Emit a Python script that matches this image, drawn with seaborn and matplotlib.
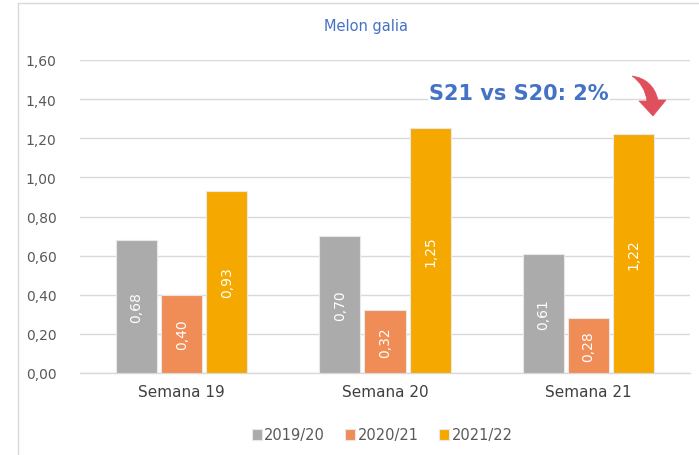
import matplotlib
matplotlib.use("Agg")
import matplotlib.pyplot as plt
import seaborn as sns
import pandas as pd
from matplotlib.patches import PathPatch
from matplotlib.path import Path
from matplotlib.lines import Line2D

categories = ["Semana 19", "Semana 20", "Semana 21"]
seasons = ["2019/20", "2020/21", "2021/22"]
v_2019 = [0.68, 0.70, 0.61]
v_2020 = [0.40, 0.32, 0.28]
v_2021 = [0.93, 1.25, 1.22]
yticks = [0.0, 0.2, 0.4, 0.6, 0.8, 1.0, 1.2, 1.4, 1.6]
colors = ["#ABABAB", "#F08C55", "#F5A800"]

rows = []
for s, vals in zip(seasons, [v_2019, v_2020, v_2021]):
    for c, v in zip(categories, vals):
        rows.append({"Semana": c, "Temporada": s, "Valor": v})
df = pd.DataFrame(rows)

sns.set_theme(style="white")
plt.rcParams["font.family"] = ["DejaVu Sans"]

W, H = 699, 456
fig = plt.figure(figsize=(W / 100, H / 100), dpi=100)
ax = fig.add_axes([80/W, (H-374)/H, (690-80)/W, (374-61)/H])

sns.barplot(data=df, x="Semana", y="Valor", hue="Temporada", order=categories,
            hue_order=seasons, palette=colors, width=0.665, ax=ax,
            edgecolor="#E8E8E8", linewidth=0.8, saturation=1, legend=True, zorder=3)

# Shrink bars slightly to create gaps between them
for p in ax.patches:
    w = p.get_width()
    if w > 0:
        x = p.get_x()
        p.set_x(x + w * 0.045)
        p.set_width(w * 0.91)

ax.set_ylim(0, 1.6)
ax.set_yticks(yticks)
ax.set_yticklabels([f"{t:.2f}".replace(".", ",") for t in yticks], color="#595959", fontsize=10)
ax.tick_params(axis="y", length=0, pad=17)
ax.tick_params(axis="x", length=0, pad=8, labelsize=11, labelcolor="#404040")
ax.set_xlabel("")
ax.set_ylabel("")
ax.yaxis.grid(True, color="#D9D9D9", linewidth=1.0, zorder=0)
ax.set_axisbelow(True)
for sp in ["top", "right", "left"]:
    ax.spines[sp].set_visible(False)
ax.spines["bottom"].set_color("#D9D9D9")
ax.spines["bottom"].set_linewidth(1.0)

# Value labels
for cont in ax.containers:
    labels = [f"{v:.2f}".replace(".", ",") for v in cont.datavalues]
    ax.bar_label(cont, labels=labels, label_type="center", rotation=90,
                 color="white", fontsize=10)

# Legend
handles, labels_ = ax.get_legend_handles_labels()
ax.get_legend().remove()
ax.legend(handles, labels_, loc="center", bbox_to_anchor=(382/W, 1 - 436/H),
          bbox_transform=fig.transFigure, ncol=3, frameon=False,
          fontsize=10.5, handlelength=0.7, handleheight=0.7, handletextpad=0.15,
          columnspacing=1.4, labelcolor="#595959")

# Title
fig.text(366/W, 1 - 27/H, "Melon galia", ha="center", va="center",
         color="#4472C4", fontsize=10.5)

# Annotation
fig.text(519/W, 1 - 94/H, "S21 vs S20: 2%", ha="center", va="center",
         color="#4472C4", fontsize=15, fontweight="bold",
         bbox=dict(facecolor="white", edgecolor="none", pad=1))

# Curved callout arrow (decoration), defined in figure pixels
def fp(x, y):
    return (x / W, 1 - y / H)

arrow_pts = [fp(632, 77), fp(653, 80), fp(658, 101), fp(666, 101), fp(653, 117),
             fp(639, 102), fp(647, 102), fp(645, 86), fp(632, 77), fp(632, 77)]
arrow_codes = [Path.MOVETO, Path.CURVE3, Path.CURVE3, Path.LINETO, Path.LINETO,
               Path.LINETO, Path.LINETO, Path.CURVE3, Path.CURVE3, Path.CLOSEPOLY]
fig.patches.append(PathPatch(Path(arrow_pts, arrow_codes), transform=fig.transFigure,
                             facecolor="#E0505C", edgecolor="#E0505C", linewidth=0.5,
                             zorder=10))

# Chart border (top and left edges visible)
fig.lines.append(Line2D([18/W, 18/W], [0, 1 - 4/H], transform=fig.transFigure,
                        color="#D9D9D9", linewidth=1.0))
fig.lines.append(Line2D([18/W, 1], [1 - 4/H, 1 - 4/H], transform=fig.transFigure,
                        color="#D9D9D9", linewidth=1.0))

fig.savefig("out.png", dpi=100)
